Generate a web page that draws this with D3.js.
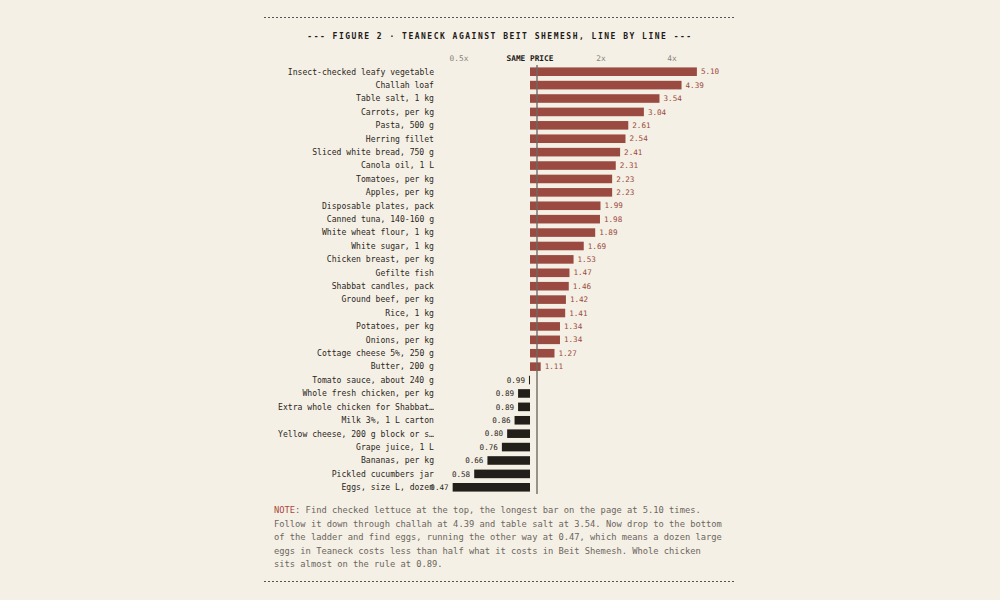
<!DOCTYPE html>
<html>
<head>
<meta charset="utf-8">
<script src="https://cdn.jsdelivr.net/npm/d3@7"></script>
<style>
  html, body { margin: 0; padding: 0; background: #f5f0e5; }
  svg { display: block; font-family: 'DejaVu Sans Mono', monospace; }
</style>
</head>
<body>
<div id="chart"></div>
<script>
// items, top to bottom
const items = [
  'Insect-checked leafy vegetable', 'Challah loaf', 'Table salt, 1 kg', 'Carrots, per kg',
  'Pasta, 500 g', 'Herring fillet', 'Sliced white bread, 750 g', 'Canola oil, 1 L',
  'Tomatoes, per kg', 'Apples, per kg', 'Disposable plates, pack', 'Canned tuna, 140-160 g',
  'White wheat flour, 1 kg', 'White sugar, 1 kg', 'Chicken breast, per kg', 'Gefilte fish',
  'Shabbat candles, pack', 'Ground beef, per kg', 'Rice, 1 kg', 'Potatoes, per kg',
  'Onions, per kg', 'Cottage cheese 5%, 250 g', 'Butter, 200 g', 'Tomato sauce, about 240 g',
  'Whole fresh chicken, per kg', 'Extra whole chicken for Shabbat…', 'Milk 3%, 1 L carton',
  'Yellow cheese, 200 g block or s…', 'Grape juice, 1 L', 'Bananas, per kg',
  'Pickled cucumbers jar', 'Eggs, size L, dozen'
]
// Teaneck price / Beit Shemesh price
const ratios = [
  5.10, 4.39, 3.54, 3.04, 2.61, 2.54, 2.41, 2.31, 2.23, 2.23, 1.99, 1.98, 1.89, 1.69,
  1.53, 1.47, 1.46, 1.42, 1.41, 1.34, 1.34, 1.27, 1.11, 0.99, 0.89, 0.89, 0.86, 0.80,
  0.76, 0.66, 0.58, 0.47
]
const tickValues = [0.5, 1, 2, 4]
const tickLabels = ['0.5x', 'SAME PRICE', '2x', '4x']

const title = '--- FIGURE 2 · TEANECK AGAINST BEIT SHEMESH, LINE BY LINE ---'
const noteLines = [
  ' Find checked lettuce at the top, the longest bar on the page at 5.10 times.',
  'Follow it down through challah at 4.39 and table salt at 3.54. Now drop to the bottom',
  'of the ladder and find eggs, running the other way at 0.47, which means a dozen large',
  'eggs in Teaneck costs less than half what it costs in Beit Shemesh. Whole chicken',
  'sits almost on the rule at 0.89.'
]

const width = 1000
const height = 600
const up = '#9a4a40'
const down = '#221e1a'
const ink = '#2b2622'

const svg = d3.select('#chart').append('svg')
  .attr('width', width)
  .attr('height', height)

// dashed rules top and bottom
const frame = svg.append('g')
  .attr('stroke', '#555')
  .attr('stroke-width', 1)
  .attr('stroke-dasharray', '2,2')
frame.append('line').attr('x1', 264).attr('x2', 736).attr('y1', 17.5).attr('y2', 17.5)
frame.append('line').attr('x1', 264).attr('x2', 736).attr('y1', 581.5).attr('y2', 581.5)

// title
svg.append('text')
  .attr('x', 500)
  .attr('y', 38.5)
  .attr('text-anchor', 'middle')
  .attr('font-size', 8)
  .attr('font-weight', 'bold')
  .attr('letter-spacing', 1.5)
  .attr('fill', '#1d1a17')
  .text(title)

// log scale, 1 = same price
const x = d3.scaleLog().base(2)
  .domain([0.25, 8])
  .range([530 - 142, 530 + 213])

const y = d3.scaleBand()
  .domain(items)
  .range([65, 494])
  .paddingInner(0.36)
  .paddingOuter(0.18)

// tick labels
svg.append('g').selectAll('text')
  .data(tickValues)
  .join('text')
  .attr('x', d => x(d))
  .attr('y', 60.5)
  .attr('text-anchor', 'middle')
  .attr('font-size', 7.8)
  .attr('font-weight', d => d === 1 ? 'bold' : 'normal')
  .attr('fill', d => d === 1 ? '#1d1a17' : '#8a847c')
  .text((d, i) => tickLabels[i])

// item labels
svg.append('g').selectAll('text')
  .data(items)
  .join('text')
  .attr('x', 434)
  .attr('y', d => y(d) + y.bandwidth() / 2)
  .attr('dy', '0.35em')
  .attr('text-anchor', 'end')
  .attr('font-size', 8.1)
  .attr('fill', ink)
  .text(d => d)

// bars
const rows = items.map((name, i) => ({ name, v: ratios[i] }))
svg.append('g').selectAll('rect')
  .data(rows)
  .join('rect')
  .attr('x', d => Math.min(x(d.v), x(1)))
  .attr('y', d => y(d.name))
  .attr('width', d => Math.max(Math.abs(x(d.v) - x(1)), 1))
  .attr('height', y.bandwidth())
  .attr('fill', d => d.v >= 1 ? up : down)

// value labels
svg.append('g').selectAll('text')
  .data(rows)
  .join('text')
  .attr('x', d => d.v >= 1 ? x(d.v) + 4 : x(d.v) - 4)
  .attr('y', d => y(d.name) + y.bandwidth() / 2)
  .attr('dy', '0.35em')
  .attr('text-anchor', d => d.v >= 1 ? 'start' : 'end')
  .attr('font-size', 7.6)
  .attr('fill', d => d.v >= 1 ? up : ink)
  .text(d => d.v.toFixed(2))

// the "same price" rule
svg.append('line')
  .attr('x1', x(1) + 7)
  .attr('x2', x(1) + 7)
  .attr('y1', 65)
  .attr('y2', 494)
  .attr('stroke', '#6f6a64')
  .attr('stroke-width', 1.4)

// note
const note = svg.append('text')
  .attr('font-size', 8.75)
  .attr('fill', '#6b655e')
note.selectAll('tspan')
  .data(noteLines)
  .join('tspan')
  .attr('x', 274)
  .attr('y', (d, i) => 513 + i * 13.6)
  .each(function (d, i) {
    const t = d3.select(this)
    if (i === 0) {
      t.append('tspan').attr('fill', '#a8473d').text('NOTE')
      t.append('tspan').text(':' + d)
    } else {
      t.text(d)
    }
  })
</script>
</body>
</html>
